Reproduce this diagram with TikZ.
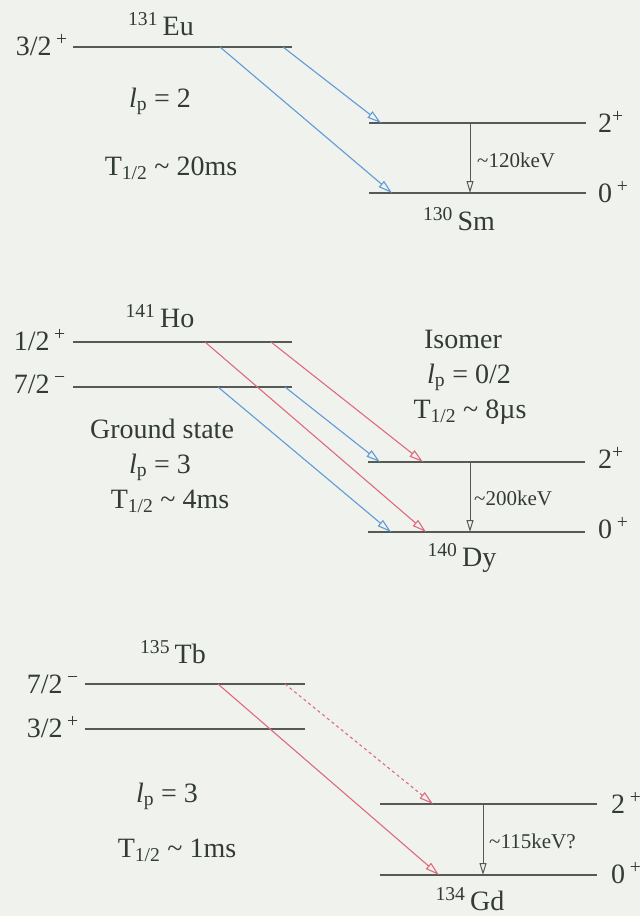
\documentclass[tikz,border=0pt]{standalone}
\usepackage{fontspec}
\setmainfont{Liberation Serif}
\usetikzlibrary{arrows.meta}
\definecolor{bg}{RGB}{240,242,238}
\definecolor{lvl}{RGB}{85,90,85}
\definecolor{txt}{RGB}{50,60,50}
\definecolor{bl}{RGB}{95,155,215}
\definecolor{rd}{RGB}{225,105,125}
\newcommand\myLp[1]{{\itshape l}\textsubscript{p} = #1}
\newcommand\myT[1]{T\textsubscript{1/2} \textasciitilde\ #1}
\newcommand\myNuc[2]{\textsuperscript{#1}\,#2}
\newcommand\mySp[2]{#1\,\textsuperscript{#2}}
\begin{document}
\begin{tikzpicture}[x=1pt,y=-1pt,
  level/.style={draw=lvl, line width=1.7pt},
  decay/.style={line width=1.1pt, -{Triangle[open,length=14pt,width=8pt]}},
  gam/.style={draw=lvl, line width=1pt, -{Triangle[open,length=12pt,width=7pt]}},
  lab/.style={text=txt, font=\fontsize{28}{30}\selectfont, inner sep=0pt, anchor=base},
  smalllab/.style={text=txt, font=\fontsize{21}{24}\selectfont, inner sep=0pt, anchor=base west}]
\fill[bg] (0,0) rectangle (640,916);
\useasboundingbox (0,0) rectangle (640,916);

% ---------- Panel 1: 131Eu -> 130Sm ----------
\coordinate (euL) at (73,47); \coordinate (euR) at (292,47);
\coordinate (euA) at (220,47); \coordinate (euB) at (283,47);
\coordinate (smTL) at (369,123); \coordinate (smTR) at (586,123);
\coordinate (smBL) at (369,193); \coordinate (smBR) at (586,193);
\coordinate (smTa) at (381,123); \coordinate (smBa) at (392,193);
\coordinate (smTg) at (470,123); \coordinate (smBg) at (470,193);
\draw[level] (euL) -- (euR);
\draw[level] (smTL) -- (smTR);
\draw[level] (smBL) -- (smBR);
\draw[decay, draw=bl] (euB) -- (smTa);
\draw[decay, draw=bl] (euA) -- (smBa);
\draw[gam] (smTg) -- (smBg);
\node[lab] (euN) at (161,35) {\myNuc{131}{Eu}};
\node[lab, anchor=base east] (euS) at (68,55) {\mySp{3/2}{+}};
\node[lab] (euLp) at (160,107) {\myLp{2}};
\node[lab] (euT) at (171,175) {\myT{20ms}};
\node[lab] (smN) at (459,230) {\myNuc{130}{Sm}};
\node[lab, anchor=base west] (sm2) at (598,132) {2\textsuperscript{+}};
\node[lab, anchor=base west] (sm0) at (598,202) {0\,\textsuperscript{+}};
\node[smalllab] (smE) at (477,167) {\textasciitilde120keV};

% ---------- Panel 2: 141Ho -> 140Dy ----------
\coordinate (hoTL) at (73,342); \coordinate (hoTR) at (292,342);
\coordinate (hoBL) at (73,387); \coordinate (hoBR) at (292,387);
\coordinate (hoTa) at (205,342); \coordinate (hoTb) at (271,342);
\coordinate (hoBa) at (218,387); \coordinate (hoBb) at (285,387);
\coordinate (dyTL) at (368,462); \coordinate (dyTR) at (585,462);
\coordinate (dyBL) at (368,532); \coordinate (dyBR) at (585,532);
\coordinate (dyTr) at (423,462); \coordinate (dyBr) at (426,532);
\coordinate (dyTb) at (380,462); \coordinate (dyBb) at (391,532);
\coordinate (dyTg) at (470,462); \coordinate (dyBg) at (470,532);
\draw[level] (hoTL) -- (hoTR);
\draw[level] (hoBL) -- (hoBR);
\draw[level] (dyTL) -- (dyTR);
\draw[level] (dyBL) -- (dyBR);
\draw[decay, draw=rd] (hoTb) -- (dyTr);
\draw[decay, draw=rd] (hoTa) -- (dyBr);
\draw[decay, draw=bl] (hoBb) -- (dyTb);
\draw[decay, draw=bl] (hoBa) -- (dyBb);
\draw[gam] (dyTg) -- (dyBg);
\node[lab] (hoN) at (160,327) {\myNuc{141}{Ho}};
\node[lab, anchor=base east] (hoS1) at (66,350) {\mySp{1/2}{+}};
\node[lab, anchor=base east] (hoS2) at (66,393) {\mySp{7/2}{−}};
\node[lab] (hoG) at (162,438) {Ground state};
\node[lab] (hoLp) at (160,473) {\myLp{3}};
\node[lab] (hoT) at (170,508) {\myT{4ms}};
\node[lab] (hoI) at (463,348) {Isomer};
\node[lab] (hoILp) at (469,383) {\myLp{0/2}};
\node[lab] (hoIT) at (470,418) {\myT{8µs}};
\node[lab] (dyN) at (462,566) {\myNuc{140}{Dy}};
\node[lab, anchor=base west] (dy2) at (598,468) {2\textsuperscript{+}};
\node[lab, anchor=base west] (dy0) at (598,538) {0\,\textsuperscript{+}};
\node[smalllab] (dyE) at (474,505) {\textasciitilde200keV};

% ---------- Panel 3: 135Tb -> 134Gd ----------
\coordinate (tbTL) at (85,684); \coordinate (tbTR) at (305,684);
\coordinate (tbBL) at (85,729); \coordinate (tbBR) at (305,729);
\coordinate (tbA) at (218,684); \coordinate (tbB) at (285,684);
\coordinate (gdTL) at (380,804); \coordinate (gdTR) at (597,804);
\coordinate (gdBL) at (380,875); \coordinate (gdBR) at (597,875);
\coordinate (gdTa) at (433,804); \coordinate (gdBa) at (439,875);
\coordinate (gdTg) at (483,804); \coordinate (gdBg) at (483,875);
\draw[level] (tbTL) -- (tbTR);
\draw[level] (tbBL) -- (tbBR);
\draw[level] (gdTL) -- (gdTR);
\draw[level] (gdBL) -- (gdBR);
\draw[decay, draw=rd, dashed] (tbB) -- (gdTa);
\draw[decay, draw=rd] (tbA) -- (gdBa);
\draw[gam] (gdTg) -- (gdBg);
\node[lab] (tbN) at (173,663) {\myNuc{135}{Tb}};
\node[lab, anchor=base east] (tbS1) at (79,693) {\mySp{7/2}{−}};
\node[lab, anchor=base east] (tbS2) at (79,737) {\mySp{3/2}{+}};
\node[lab] (tbLp) at (167,802) {\myLp{3}};
\node[lab] (tbT) at (177,857) {\myT{1ms}};
\node[lab] (gdN) at (470,910) {\myNuc{134}{Gd}};
\node[lab, anchor=base west] (gd2) at (611,813) {2\,\textsuperscript{+}};
\node[lab, anchor=base west] (gd0) at (611,883) {0\,\textsuperscript{+}};
\node[smalllab] (gdE) at (489,848) {\textasciitilde115keV?};
\end{tikzpicture}
\end{document}
